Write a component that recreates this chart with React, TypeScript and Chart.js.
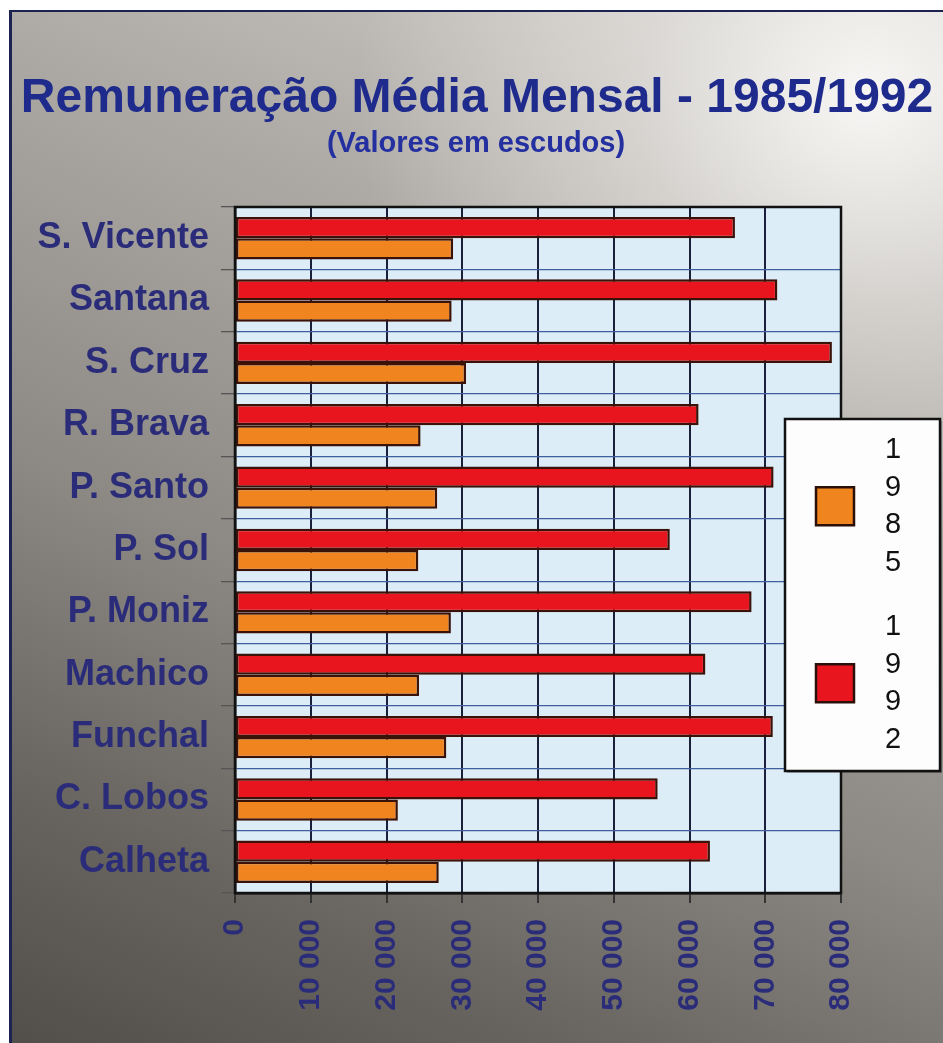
import React, { useEffect, useRef } from "react";
import { Chart, registerables } from "chart.js";

Chart.register(...registerables);

const titleText = "Remuneração Média Mensal - 1985/1992";
const subtitleText = "(Valores em escudos)";

const categories = [
  "S. Vicente",
  "Santana",
  "S. Cruz",
  "R. Brava",
  "P. Santo",
  "P. Sol",
  "P. Moniz",
  "Machico",
  "Funchal",
  "C. Lobos",
  "Calheta",
];

const values1985 = [28800, 28600, 30500, 24500, 26700, 24200, 28500, 24300, 27900, 21500, 26900];
const values1992 = [66000, 71600, 78800, 61200, 71100, 57400, 68200, 62100, 71000, 55800, 62700];

const seriesLabels = ["1985", "1992"];
const xTickLabels = ["0", "10 000", "20 000", "30 000", "40 000", "50 000", "60 000", "70 000", "80 000"];

const FONT = "'Liberation Sans', Arial, Helvetica, sans-serif";
const RED = "#e8141e";
const ORANGE = "#f0841e";
const NAVY_TEXT = "#2a2c7a";

const plotBg = {
  id: "plotBg",
  beforeDraw(chart: any) {
    const { ctx, chartArea } = chart;
    ctx.save();
    ctx.fillStyle = "#dcedf8";
    ctx.fillRect(chartArea.left, chartArea.top, chartArea.right - chartArea.left, chartArea.bottom - chartArea.top);
    ctx.restore();
  },
};

const plotFrame = {
  id: "plotFrame",
  afterDatasetsDraw(chart: any) {
    const { ctx, chartArea } = chart;
    ctx.save();
    ctx.strokeStyle = "#111111";
    ctx.lineWidth = 2.5;
    ctx.strokeRect(chartArea.left, chartArea.top, chartArea.right - chartArea.left, chartArea.bottom - chartArea.top);
    ctx.restore();
  },
};

const headerText = {
  id: "headerText",
  afterDraw(chart: any) {
    const { ctx } = chart;
    ctx.save();
    ctx.textAlign = "center";
    ctx.textBaseline = "alphabetic";
    ctx.fillStyle = "#1e2a8c";
    ctx.font = `bold 48px ${FONT}`;
    ctx.fillText(titleText, 477, 112);
    ctx.fillStyle = "#2430a0";
    ctx.font = `bold 29px ${FONT}`;
    ctx.fillText(subtitleText, 476, 152);
    ctx.restore();
  },
};

const stackedLegend = {
  id: "stackedLegend",
  afterDraw(chart: any) {
    const { ctx } = chart;
    const bx = 785;
    const by = 419;
    const bw = 155;
    const bh = 352;
    ctx.save();
    ctx.fillStyle = "rgba(0,0,0,0.25)";
    ctx.fillRect(bx + 2, by + 2, bw, bh);
    ctx.fillStyle = "#fdfdfd";
    ctx.fillRect(bx, by, bw, bh);
    ctx.strokeStyle = "#111111";
    ctx.lineWidth = 2.5;
    ctx.strokeRect(bx, by, bw, bh);

    const order = [1, 0];
    const step = 37.5;
    order.forEach((dsIndex, i) => {
      const ds = chart.data.datasets[dsIndex];
      const label: string = ds.label;
      const startY = by + 31 + i * 177;
      const centerY = startY + ((label.length - 1) * step) / 2;
      const sq = 38;
      ctx.fillStyle = ds.backgroundColor;
      ctx.fillRect(bx + 31, centerY - sq / 2, sq, sq);
      ctx.strokeStyle = "#2a1008";
      ctx.lineWidth = 2.5;
      ctx.strokeRect(bx + 31, centerY - sq / 2, sq, sq);
      ctx.fillStyle = "#111111";
      ctx.font = `29px ${FONT}`;
      ctx.textAlign = "center";
      ctx.textBaseline = "middle";
      label.split("").forEach((ch, k) => {
        ctx.fillText(ch, bx + 108, startY + k * step);
      });
    });
    ctx.restore();
  },
};

export default function App() {
  const canvasRef = useRef<HTMLCanvasElement | null>(null);

  useEffect(() => {
    if (!canvasRef.current) return;
    const chart = new Chart(canvasRef.current, {
      type: "bar",
      data: {
        labels: categories,
        datasets: [
          {
            label: seriesLabels[1],
            data: values1992,
            backgroundColor: RED,
            borderColor: "#3a1208",
            borderWidth: 2.5,
            borderSkipped: false,
            categoryPercentage: 0.68,
            barPercentage: 1.0,
          },
          {
            label: seriesLabels[0],
            data: values1985,
            backgroundColor: ORANGE,
            borderColor: "#3a1208",
            borderWidth: 2.5,
            borderSkipped: false,
            categoryPercentage: 0.68,
            barPercentage: 1.0,
          },
        ],
      },
      options: {
        indexAxis: "y",
        responsive: false,
        animation: false,
        layout: { padding: { top: 207, right: 102, bottom: 0, left: 0 } },
        plugins: {
          legend: { display: false },
          title: { display: false },
          tooltip: { enabled: false },
        },
        scales: {
          x: {
            type: "linear",
            position: "bottom",
            min: 0,
            max: 80000,
            afterFit: (scale: any) => {
              scale.height = 150;
            },
            ticks: {
              stepSize: 10000,
              minRotation: 90,
              maxRotation: 90,
              padding: 16,
              color: NAVY_TEXT,
              font: { family: FONT, size: 30, weight: "bold" },
              callback: (_v: any, index: number) => xTickLabels[index],
            },
            grid: {
              color: "#1a1f3a",
              lineWidth: 2,
              tickLength: 10,
              tickColor: "#333333",
            },
            border: { display: true, color: "#111111", width: 2.5 },
          },
          y: {
            type: "category",
            afterFit: (scale: any) => {
              scale.width = 235;
            },
            ticks: {
              padding: 12,
              color: NAVY_TEXT,
              font: { family: FONT, size: 36, weight: "bold" },
            },
            grid: {
              offset: true,
              color: "#3e5e9e",
              lineWidth: 1.3,
              tickLength: 14,
              tickColor: "#555555",
            },
            border: { display: true, color: "#111111", width: 2.5 },
          },
        },
      },
      plugins: [plotBg, plotFrame, headerText, stackedLegend],
    });
    return () => chart.destroy();
  }, []);

  return (
    <div
      style={{
        position: "fixed",
        left: 0,
        top: 0,
        width: 943,
        height: 1043,
        background: "#ffffff",
        overflow: "hidden",
      }}
    >
      <div
        style={{
          position: "absolute",
          left: 9,
          top: 10,
          right: 0,
          bottom: 0,
          borderTop: "2px solid #1c2350",
          borderLeft: "3px solid #1c2350",
          background:
            "radial-gradient(ellipse 55% 45% at 92% 8%, rgba(250,249,247,0.95) 0%, rgba(230,228,225,0.6) 45%, rgba(200,197,193,0) 100%), linear-gradient(205deg, #d6d3cf 0%, #aeaaa5 30%, #8c8883 60%, #68645f 82%, #524e49 100%)",
        }}
      />
      <canvas
        ref={canvasRef}
        width={943}
        height={1043}
        style={{ position: "absolute", left: 0, top: 0, width: 943, height: 1043 }}
      />
    </div>
  );
}
